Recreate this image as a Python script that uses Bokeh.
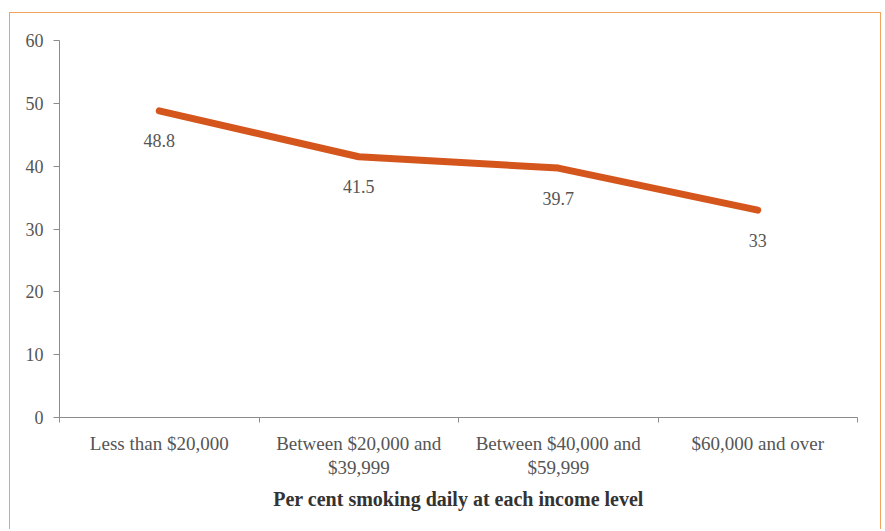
from bokeh.plotting import figure
from bokeh.models import FixedTicker, ColumnDataSource, Range1d
from bokeh.embed import file_html
from bokeh.resources import INLINE
from bokeh.core.properties import value

categories = ["Less than $20,000", "Between $20,000 and $39,999",
              "Between $40,000 and $59,999", "$60,000 and over"]
tick_labels = ["Less than $20,000", "Between $20,000 and\n$39,999",
               "Between $40,000 and\n$59,999", "$60,000 and over"]
values = [48.8, 41.5, 39.7, 33]
value_labels = ["48.8", "41.5", "39.7", "33"]
y_ticks = [0, 10, 20, 30, 40, 50, 60]
axis_title = "Per cent smoking daily at each income level"

FONT = "Liberation Serif"
LINE_COLOR = "#D4561C"
GREY = "#8c8c8c"
TEXT = "#555555"

xs = [i + 0.5 for i in range(len(categories))]
bounds = list(range(len(categories) + 1))

src = ColumnDataSource(dict(x=xs, y=values, lab=value_labels))

p = figure(width=872, height=517,
           x_range=Range1d(0, len(categories)), y_range=Range1d(0, 60),
           output_backend="svg", toolbar_location=None,
           min_border_left=49, min_border_right=25,
           min_border_top=27, min_border_bottom=113)
p.margin = (12, 0, 0, 9)
p.styles = {"border-top": "1px solid #F2A35E",
            "border-left": "1px solid #F2A35E",
            "border-right": "1px solid #F2A35E"}
p.outline_line_color = None
p.xgrid.visible = False
p.ygrid.visible = False
p.background_fill_color = "white"
p.border_fill_color = "white"

p.line("x", "y", source=src, line_width=7, line_color=LINE_COLOR,
       line_cap="round", line_join="round")
p.text("x", "y", text="lab", source=src, text_align="center",
       text_baseline="middle", y_offset=30,
       text_font=value(FONT), text_font_size="18px", text_color=TEXT)

ya = p.yaxis[0]
ya.ticker = FixedTicker(ticks=y_ticks)
ya.major_tick_out = 6
ya.major_tick_in = 0
ya.minor_tick_out = 0
ya.minor_tick_in = 0
ya.axis_line_color = GREY
ya.major_tick_line_color = GREY
ya.major_label_standoff = 10
ya.major_label_text_font = FONT
ya.major_label_text_font_size = "18px"
ya.major_label_text_color = TEXT

xa = p.xaxis[0]
xa.ticker = FixedTicker(ticks=xs, minor_ticks=bounds)
xa.major_label_overrides = {x: t for x, t in zip(xs, tick_labels)}
xa.major_tick_out = 0
xa.major_tick_in = 0
xa.minor_tick_out = 5
xa.minor_tick_in = 0
xa.axis_line_color = GREY
xa.minor_tick_line_color = GREY
xa.major_label_standoff = 10
xa.major_label_text_font = FONT
xa.major_label_text_font_size = "19px"
xa.major_label_text_color = TEXT
xa.major_label_text_line_height = 1.15
xa.axis_label = axis_title
xa.axis_label_standoff = 7
xa.axis_label_text_font = FONT
xa.axis_label_text_font_size = "20px"
xa.axis_label_text_font_style = "bold"
xa.axis_label_text_color = "#333333"

open("out.html", "w").write(file_html(p, INLINE))
